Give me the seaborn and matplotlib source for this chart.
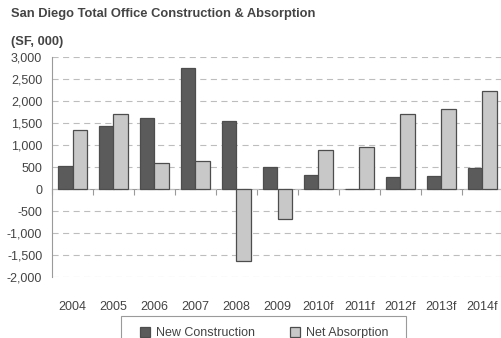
import matplotlib
matplotlib.use("Agg")
import matplotlib.pyplot as plt
import seaborn as sns
import pandas as pd
from matplotlib.patches import Rectangle
from matplotlib.ticker import FuncFormatter

# Office market figures, thousands of square feet
years = ["2004", "2005", "2006", "2007", "2008", "2009",
         "2010f", "2011f", "2012f", "2013f", "2014f"]
new_construction = [530, 1430, 1610, 2760, 1550, 510, 320, 0, 280, 295, 485]
net_absorption = [1340, 1700, 600, 640, -1640, -680, 890, 950, 1700, 1820, 2230]
series_names = ["New Construction", "Net Absorption"]
y_ticks = list(range(-2000, 3001, 500))

df = pd.DataFrame({
    "year": years * 2,
    "value": new_construction + net_absorption,
    "series": [series_names[0]] * len(years) + [series_names[1]] * len(years),
})

sns.set_theme(style="white")
plt.rcParams["font.family"] = ["Liberation Sans", "DejaVu Sans"]

W, H = 502, 338
fig = plt.figure(figsize=(W / 100, H / 100), dpi=100)
ax = fig.add_axes([52 / W, 1 - 277 / H, 451 / W, 220 / H])

palette = {series_names[0]: "#5b5b5b", series_names[1]: "#c8c8c8"}
sns.barplot(data=df, x="year", y="value", hue="series", order=years,
            hue_order=series_names, palette=palette, width=0.7,
            edgecolor="#4d4d4d", linewidth=0.9, saturation=1, ax=ax, zorder=3)

ax.set_xlim(-0.5, 10.5)
ax.set_ylim(-2000, 3000)
ax.set_yticks(y_ticks)
ax.yaxis.set_major_formatter(FuncFormatter(lambda v, p: f"{int(v):,}"))
ax.grid(axis="y", color="#bdbdbd", linestyle=(0, (5.5, 4)), linewidth=0.8, zorder=0)
ax.set_xlabel("")
ax.set_ylabel("")

for side in ["top", "right", "bottom"]:
    ax.spines[side].set_visible(False)
ax.spines["left"].set_color("#9a9a9a")
ax.spines["left"].set_linewidth(0.8)

ax.tick_params(axis="y", left=False, length=0, labelsize=9,
               labelcolor="#444444", pad=7)
ax.tick_params(axis="x", bottom=False, length=0, labelsize=9,
               labelcolor="#444444", pad=17)

# Zero baseline with category-boundary ticks
zero_frac = (0 - (-2000)) / (3000 - (-2000))
base = ax.secondary_xaxis(zero_frac)
base.set_xticks([i - 0.5 for i in range(len(years) + 1)])
base.tick_params(axis="x", direction="out", length=4, width=0.8,
                 color="#9a9a9a", labelbottom=False, labeltop=False)
base.spines["bottom"].set_color("#9a9a9a")
base.spines["bottom"].set_linewidth(0.8)

# Legend entries, with a plain box around them running off the bottom edge
ax.legend(loc="upper left", bbox_to_anchor=(134 / W, 1 - 321 / H),
          bbox_transform=fig.transFigure, ncol=2, frameon=False,
          fontsize=9, handlelength=0.8, handleheight=0.8,
          handletextpad=0.45, columnspacing=2.8, borderpad=0,
          labelcolor="#444444")
fig.patches.append(Rectangle((121 / W, 1 - 350 / H), 285 / W, 34 / H,
                             transform=fig.transFigure, facecolor="none",
                             edgecolor="#9a9a9a", linewidth=0.8))

fig.text(11 / W, 1 - 14 / H, "San Diego Total Office Construction & Absorption",
         fontsize=9.3, fontweight="bold", color="#444444", va="center", ha="left")
fig.text(11 / W, 1 - 42 / H, "(SF, 000)",
         fontsize=9.3, fontweight="bold", color="#444444", va="center", ha="left")

fig.savefig("out.png", dpi=100, facecolor="white")
